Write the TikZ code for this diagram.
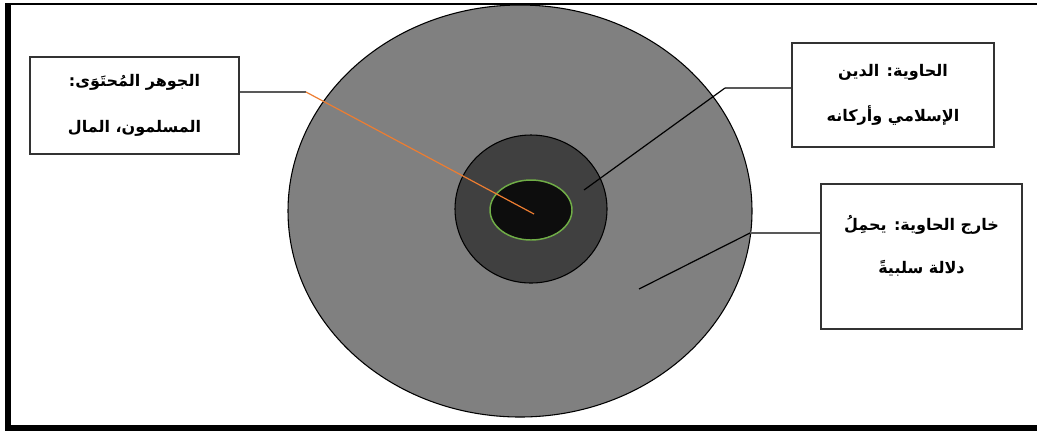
\documentclass[tikz,border=0pt]{standalone}
\usepackage{fontspec}
\newfontfamily\arabicfont[Script=Arabic]{DejaVu Sans}
\TeXXeTstate=1
\usetikzlibrary{shapes.geometric, positioning}

\definecolor{ringgray}{HTML}{808080}
\definecolor{coregray}{HTML}{404040}
\definecolor{kernel}{HTML}{0D0D0D}
\definecolor{kernelrim}{HTML}{70AD47}
\definecolor{leadorange}{HTML}{ED7D31}

\begin{document}
\begin{tikzpicture}[
        x=0.75pt, y=-0.75pt,
        box/.style={rectangle, draw=black!80, line width=1.1pt, fill=white, align=center,
                    inner sep=0pt, font=\arabicfont\bfseries\fontsize{12}{34}\selectfont},
        label text/.style={align=center, inner sep=0pt, font=\arabicfont\bfseries\fontsize{12}{32}\selectfont},
        zone/.style={ellipse, draw=black, line width=0.8pt, inner sep=0pt},
        pointer/.style={draw=black!65, line width=1.1pt},
        inner pointer/.style={draw=black, line width=0.9pt}
    ]
    \useasboundingbox (0,0) rectangle (1037,430);

    % frame
    \draw[line width=0.8pt] (5,4) -- (1037,4);
    \draw[line width=4.5pt] (8,4) -- (8,427.5) -- (1037,427.5);

    % zones
    \node[zone, fill=ringgray, minimum width=348pt, minimum height=309pt] (outer) at (520,211) {};
    \node[zone, fill=coregray, minimum width=114pt, minimum height=111pt] (container) at (531,209) {};
    \node[zone, fill=kernel, draw=kernelrim, line width=1.1pt, minimum width=61.5pt, minimum height=45pt] (essence) at (531,210) {};

    % boxes
    \node[box, minimum width=157pt, minimum height=73pt] (essbox) at (134.5,105.5)
        {\beginR الجوهر المُحتَوَى:\endR\\\beginR المسلمون، المال\endR};
    \node[box, minimum width=151.5pt, minimum height=78pt] (relbox) at (893,95)
        {\beginR الحاوية: الدين\endR\\\beginR الإسلامي وأركانه\endR};
    \node[box, minimum width=151pt, minimum height=109pt] (outbox) at (921.5,256.5) {};
    \node[label text] (outtext) at (921.5,246)
        {\beginR خارج الحاوية: يحمِلُ\endR\\\beginR دلالة سلبيةً\endR};

    % pointers
    \coordinate (kneeA) at (306,92);
    \coordinate (tipA) at (534,214);
    \coordinate (kneeB) at (725,88);
    \coordinate (tipB) at (584,190);
    \coordinate (kneeC) at (750,233);
    \coordinate (tipC) at (639,289);

    \draw[pointer] (essbox.east |- kneeA) -- (kneeA);
    \draw[draw=leadorange, line width=0.9pt] (kneeA) -- (tipA);
    \draw[pointer] (relbox.west |- kneeB) -- (kneeB);
    \draw[inner pointer] (kneeB) -- (tipB);
    \draw[pointer] (outbox.west |- kneeC) -- (kneeC);
    \draw[inner pointer] (kneeC) -- (tipC);

\end{tikzpicture}
\end{document}
